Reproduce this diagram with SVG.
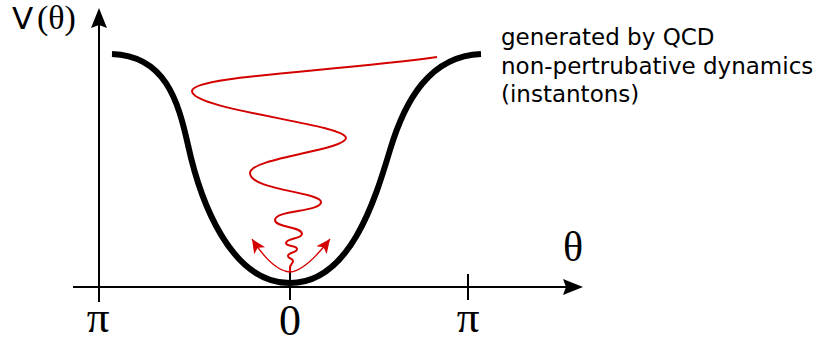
<svg xmlns="http://www.w3.org/2000/svg" width="826" height="344" viewBox="0 0 826 344">
<style>
.axis{stroke:#000;stroke-width:2;fill:none}
.well{stroke:#000;stroke-width:6;fill:none;stroke-linecap:butt}
.wave{stroke:#d40000;stroke-width:2;fill:none}
.arr{stroke:#d40000;stroke-width:1.3;fill:none}
.serif{font-family:"Liberation Serif","DejaVu Serif",serif;fill:#000}
.sans{font-family:"DejaVu Sans","Liberation Sans",sans-serif;fill:#000}
</style>
<defs>
<marker id="ah" markerUnits="userSpaceOnUse" markerWidth="16" markerHeight="14" viewBox="-14 -7 16 14" refX="0" refY="0" orient="auto">
<path d="M0,0 L-14,-6.5 L-10.5,0 L-14,6.5 Z" fill="#d40000"/>
</marker>
</defs>
<rect width="826" height="344" fill="#fff"/>
<g id="axes">
<line class="axis" x1="99" y1="302" x2="99" y2="24"/>
<path d="M99,8 L107,28 L99,25 L91,28 Z" fill="#000"/>
<line class="axis" x1="73" y1="287" x2="566" y2="287"/>
<path d="M583,287 L563,279 L566,287 L563,295 Z" fill="#000"/>
<line class="axis" x1="290" y1="272" x2="290" y2="300"/>
<line class="axis" x1="468" y1="274" x2="468" y2="300"/>
</g>
<g id="labels">
<text class="sans" x="12" y="29" font-size="31">V</text>
<text class="serif" x="37" y="29" font-size="34">(θ)</text>
<text class="serif" x="573" y="261" font-size="42" text-anchor="middle">θ</text>
<text class="serif" x="98" y="332" font-size="45" text-anchor="middle">π</text>
<text class="serif" x="468" y="332" font-size="45" text-anchor="middle">π</text>
<text class="serif" x="290" y="335" font-size="44" text-anchor="middle">0</text>
</g>
<g id="potential">
<path class="well" d="M112,54 C165,56 178,100 188,145 C200,200 230,283 290,283 C350,283 375,200 390,150 C405,100 430,56 481,54"/>
</g>
<g id="annotation">
<text class="sans" font-size="23"><tspan x="501" y="45">generated by QCD</tspan><tspan x="501" y="73.5">non-pertrubative dynamics</tspan><tspan x="501" y="102">(instantons)</tspan></text>
</g>
<g id="connectors">
<path class="wave" d="M437,57 C330,72 192,76 192,91 C192,110 346,124 346,138 C346,150 250,158 250,173 C250,190 321,192 321,202 C321,212 275,210 275,220 C275,228 302,226 302,234 C302,239 286,238 286,243 C286,247 297,245 297,249 C297,253 288,252 288,256 C288,259 293,258 293,261 C293,264 290,264 290,268 L290,272"/>
<path class="arr" d="M290,272 C277,271 263,256 252,239" marker-end="url(#ah)"/>
<path class="arr" d="M290,272 C303,271 317,256 330,239" marker-end="url(#ah)"/>
</g>
</svg>
